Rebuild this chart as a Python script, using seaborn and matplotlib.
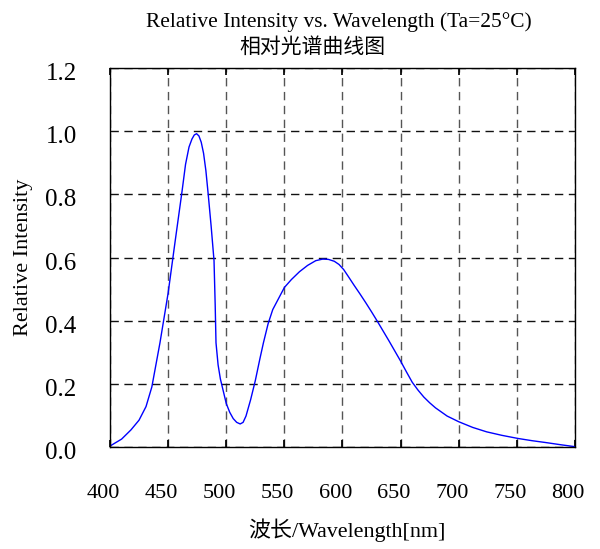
import numpy as np
import pandas as pd
import matplotlib
matplotlib.use("Agg")
import matplotlib.pyplot as plt
import matplotlib.transforms as mtrans
import seaborn as sns

# spectrum
wavelength = [400, 410, 418, 425, 431, 436, 443, 450, 456, 462, 465, 468, 470.5,
              472.5, 474.5, 476.5, 478.5, 480.5, 482.5, 484.5, 487, 489.5, 490.5,
              491.2, 493, 495, 500, 503, 506, 509, 512, 514.5, 517, 521, 525,
              529, 532, 536, 540, 545, 550, 556, 563, 570, 577, 583, 588, 593,
              597, 601, 605, 610, 615, 620, 625, 630, 635, 640, 645, 650, 655,
              660, 665, 670, 675, 680, 690, 700, 712, 724, 737, 751, 763, 775,
              788, 800]
intensity = [0.003, 0.025, 0.054, 0.085, 0.128, 0.19, 0.33, 0.487, 0.65, 0.81,
             0.895, 0.95, 0.975, 0.988, 0.992, 0.985, 0.965, 0.93, 0.875, 0.80,
             0.70, 0.59, 0.45, 0.33, 0.26, 0.215, 0.138, 0.11, 0.09, 0.078,
             0.073, 0.078, 0.098, 0.15, 0.21, 0.28, 0.33, 0.39, 0.435, 0.47,
             0.505, 0.53, 0.555, 0.575, 0.59, 0.595, 0.594, 0.588, 0.578, 0.562,
             0.54, 0.512, 0.485, 0.457, 0.428, 0.398, 0.367, 0.336, 0.304,
             0.272, 0.238, 0.205, 0.18, 0.158, 0.14, 0.124, 0.098, 0.08, 0.062,
             0.048, 0.037, 0.027, 0.02, 0.014, 0.007, 0.001]
x_ticks = [400, 450, 500, 550, 600, 650, 700, 750, 800]
y_ticks = [0.0, 0.2, 0.4, 0.6, 0.8, 1.0, 1.2]

df = pd.DataFrame({"wl": wavelength, "ri": intensity})

sns.set_theme(style="white")
fonts = ["Liberation Serif", "Noto Sans CJK SC"]
plt.rcParams["font.family"] = fonts
plt.rcParams["text.color"] = "black"

fig = plt.figure(figsize=(6, 5.49), dpi=100)
ax = fig.add_axes([0.1833, 0.1858, 0.775, 0.6903])

sns.lineplot(data=df, x="wl", y="ri", ax=ax, color="#0000ff", linewidth=1.0)

ax.set_xlim(400, 800)
ax.set_ylim(0, 1.2)
ax.set_xticks(x_ticks)
ax.set_yticks(y_ticks)
ax.set_yticklabels([f"{v:.1f}" for v in y_ticks])

ax.grid(True, axis="x", color="#555555", linestyle=(0, (6, 4)), linewidth=1.0)
ax.grid(True, axis="y", color="#111111", linestyle=(0, (6, 4)), linewidth=1.0)

for s in ax.spines.values():
    s.set_color("black")
    s.set_linewidth(1.0)

ax.tick_params(axis="x", direction="in", top=True, bottom=True, length=5,
               labelsize=16, pad=27, colors="black", labelcolor="black")
ax.tick_params(axis="y", direction="in", left=True, length=0,
               labelsize=18, pad=24, colors="black", labelcolor="black")

# tick labels in the reference sit a little left / below their ticks
shift_x = mtrans.ScaledTranslation(-7 / 100, 0, fig.dpi_scale_trans)
for lab in ax.get_xticklabels():
    lab.set_transform(lab.get_transform() + shift_x)
shift_y = mtrans.ScaledTranslation(0, -3.5 / 100, fig.dpi_scale_trans)
for lab in ax.get_yticklabels():
    lab.set_transform(lab.get_transform() + shift_y)

ax.set_xlabel("")
ax.set_ylabel("")
fig.text(0.578, 0.035, "波长/Wavelength[nm]", ha="center", va="center",
         fontsize=15.8, family=fonts)
fig.text(0.04, 0.532, "Relative Intensity", ha="center", va="center",
         rotation=90, fontsize=16, family=fonts)

fig.text(0.565, 0.96, "Relative Intensity vs. Wavelength (Ta=25°C)",
         ha="center", va="center", fontsize=15.4, family=fonts)
fig.text(0.52, 0.913, "相对光谱曲线图", ha="center", va="center",
         fontsize=15, family=fonts)

plt.savefig("out.png", dpi=100)
